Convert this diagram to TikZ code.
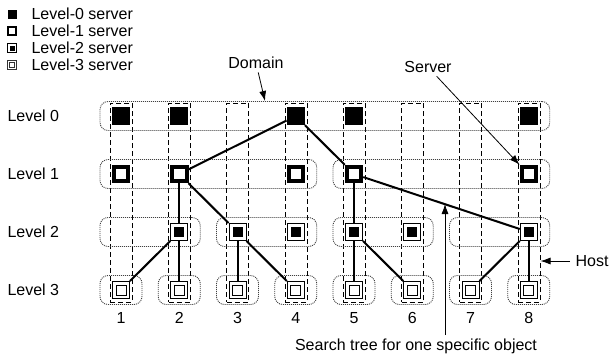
\documentclass[tikz,border=0pt]{standalone}
\usepackage{fontspec}
\setmainfont{Liberation Sans}
\usetikzlibrary{arrows.meta}

\begin{document}
\begin{tikzpicture}[x=1pt,y=-1pt,
        font=\fontsize{16}{19}\selectfont,
        host/.style={draw,dash pattern=on 5pt off 3pt,line width=0.9pt,minimum width=22pt,minimum height=199pt,inner sep=0pt},
        dom/.style={draw=black!75,dash pattern=on 1pt off 1pt,line width=0.9pt,rounded corners=8pt,minimum height=29pt,inner sep=0pt},
        srvzero/.style={fill=black,minimum size=18pt,inner sep=0pt},
        srvone/.style={draw,fill=white,line width=4pt,minimum size=14.5pt,inner sep=0pt},
        srvtwo/.style={draw,fill=white,line width=1pt,minimum size=17pt,inner sep=0pt,
            path picture={\fill[black] ([shift={(-5pt,-5pt)}]path picture bounding box.center) rectangle ++(10pt,10pt);}},
        srvthree/.style={draw,fill=white,line width=1pt,minimum size=17pt,inner sep=0pt,
            path picture={\draw[line width=1pt] ([shift={(-5pt,-5pt)}]path picture bounding box.center) rectangle ++(10pt,10pt);}},
        legzero/.style={fill=black,minimum size=9pt,inner sep=0pt},
        legone/.style={draw,fill=white,line width=2.2pt,minimum size=7.5pt,inner sep=0pt},
        legtwo/.style={draw,fill=white,line width=0.8pt,minimum size=9pt,inner sep=0pt,
            path picture={\fill[black] ([shift={(-2.5pt,-2.5pt)}]path picture bounding box.center) rectangle ++(5pt,5pt);}},
        legthree/.style={draw=black!80,fill=white,line width=0.7pt,minimum size=9pt,inner sep=0pt,
            path picture={\draw[black!80,line width=0.7pt] ([shift={(-2.5pt,-2.5pt)}]path picture bounding box.center) rectangle ++(5pt,5pt);}},
        tree/.style={line width=2pt},
        pointer/.style={-{Latex[length=10pt,width=7pt]},line width=0.8pt}]
    \useasboundingbox (0,0) rectangle (610,360);

    % legend
    \node[legzero] (lg0) at (12,14) {};
    \node[legone] (lg1) at (12,31) {};
    \node[legtwo] (lg2) at (12,48) {};
    \node[legthree] (lg3) at (12,65) {};
    \node[anchor=west] (lt0) at (28,14) {Level-0 server};
    \node[anchor=west] (lt1) at (28,31) {Level-1 server};
    \node[anchor=west] (lt2) at (28,48) {Level-2 server};
    \node[anchor=west] (lt3) at (28,65) {Level-3 server};

    % level labels
    \foreach \l/\y in {0/116,1/174,2/232,3/290}
        \node[anchor=west] (lv\l) at (4,\y) {Level \l};

    % hosts and column numbers
    \foreach \i in {1,...,8} {
        \node[host] (h\i) at ({121.3+58.25*(\i-1)},202.5) {};
        \node (n\i) at ({121+58.25*(\i-1)},318) {\i};
    }

    % domains
    \node[dom,minimum width=449.75pt] (d0) at (324.9,116) {};
    \node[dom,minimum width=216.75pt] (d1-1) at (208.4,174) {};
    \node[dom,minimum width=216.75pt] (d1-2) at (441.4,174) {};
    \foreach \k in {1,...,4}
        \node[dom,minimum width=100.25pt] (d2-\k) at ({150.1+116.5*(\k-1)},232) {};
    \foreach \i in {1,...,8}
        \node[dom,minimum width=42pt] (d3-\i) at ({121+58.25*(\i-1)},290) {};

    % servers
    \foreach \i in {1,2,4,5,8} {
        \node[srvzero] (s0-\i) at ({121+58.25*(\i-1)},116) {};
        \node[srvone] (s1-\i) at ({121+58.25*(\i-1)},174) {};
    }
    \foreach \i in {2,3,4,5,6,8}
        \node[srvtwo] (s2-\i) at ({121+58.25*(\i-1)},232) {};
    \foreach \i in {1,...,8}
        \node[srvthree] (s3-\i) at ({121+58.25*(\i-1)},290) {};

    % search tree
    \draw[tree] (s0-4) -- (s1-2);
    \draw[tree] (s0-4) -- (s1-5);
    \draw[tree] (s1-2) -- (s2-2);
    \draw[tree] (s1-2) -- (s2-3);
    \draw[tree] (s1-5) -- (s2-5);
    \draw[tree] (s1-5) -- (s2-8);
    \foreach \p/\c in {2/1,2/2,3/3,3/4,5/5,5/6,8/7,8/8}
        \draw[tree] (s2-\p) -- (s3-\c);

    % callouts
    \node (dlbl) at (256,63) {Domain};
    \coordinate (dtip) at (265,101);
    \draw[pointer] (dlbl) -- (dtip);

    \node (slbl) at (428,67) {Server};
    \draw[pointer] (slbl) -- (s1-8.north west);

    \node (hlbl) at (592,261) {Host};
    \draw[pointer,shorten <=2pt] (hlbl.west) -- (h8.east |- hlbl.west);

    \node (tlbl) at (416,346) {Search tree for one specific object};
    \coordinate (ttip) at (445,204);
    \draw[pointer] (ttip |- tlbl.north) -- (ttip);
\end{tikzpicture}
\end{document}
